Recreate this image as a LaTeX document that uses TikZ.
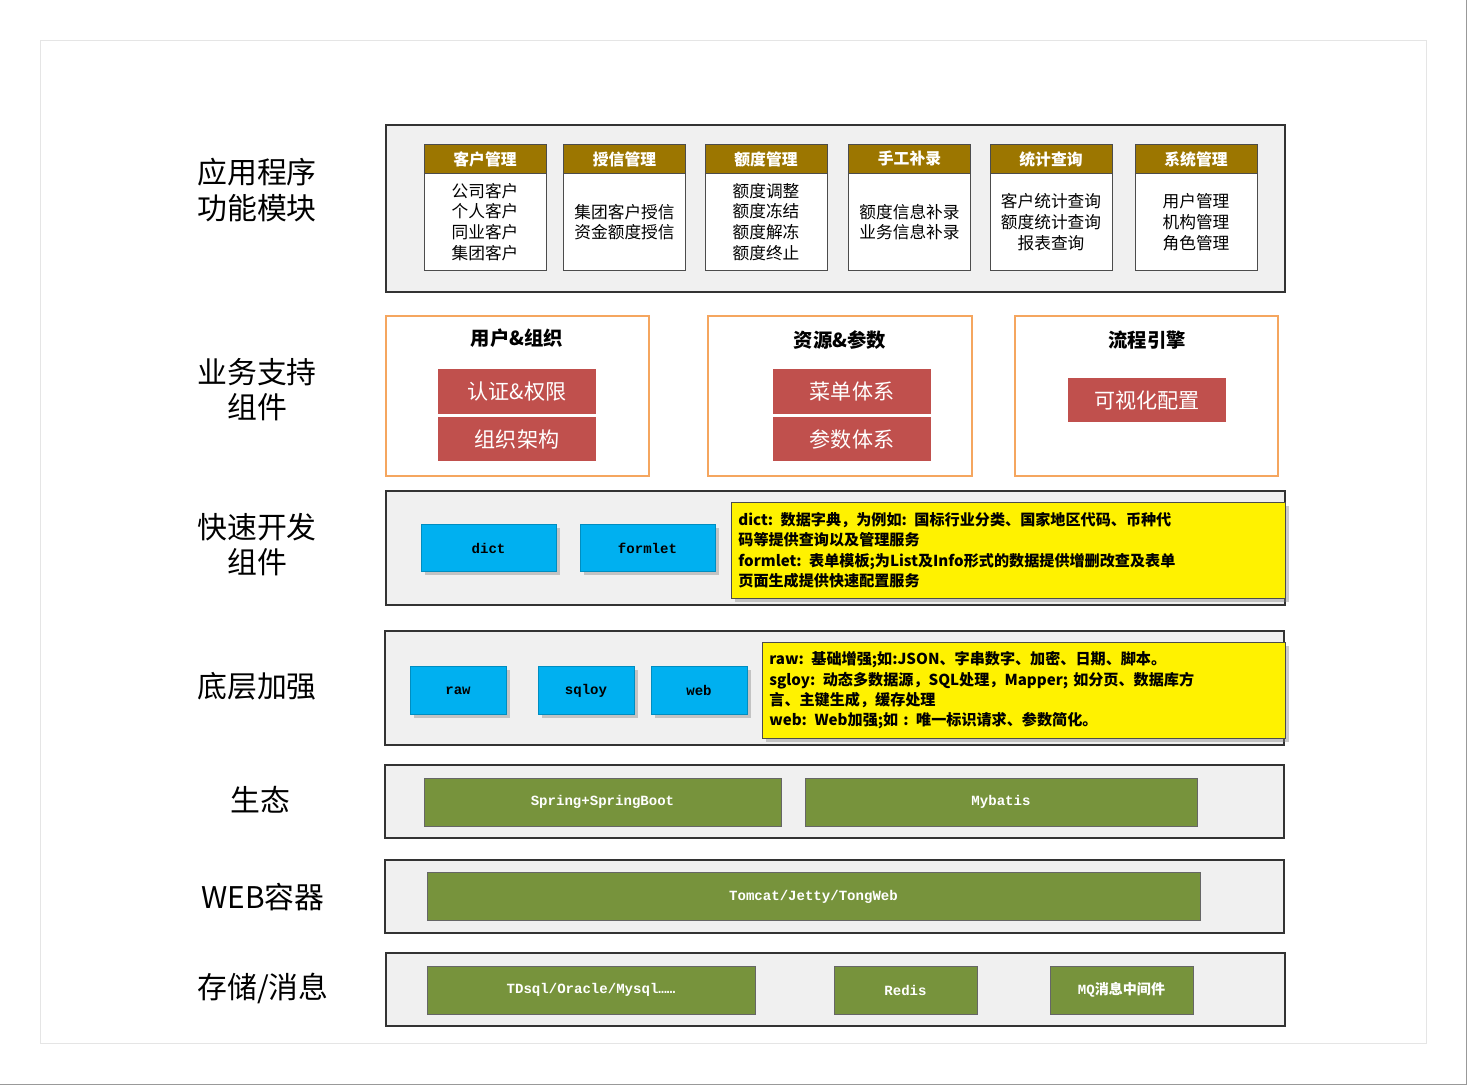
\documentclass[tikz,border=0pt]{standalone}
\usepackage{fontspec}
\setmainfont{Noto Sans CJK SC}
\newfontfamily\codefont{Liberation Mono}
\newfontfamily\cjkfont{Noto Sans CJK SC}
\usetikzlibrary{positioning,shadows}
\definecolor{modgold}{RGB}{156,118,0}
\definecolor{modred}{RGB}{192,80,77}
\definecolor{modblue}{RGB}{0,176,240}
\definecolor{modgreen}{RGB}{119,147,60}
\definecolor{edgeorange}{RGB}{245,166,95}
\tikzset{
  panel/.style={draw=black!80, fill=black!6, line width=0.6pt},
  group/.style={draw=edgeorange, fill=white, line width=0.6pt},
  layerlabel/.style={font=\fontsize{17}{20}\selectfont, align=center},
  modhead/.style={draw=black!70, fill=modgold, text=white, font=\fontsize{9}{10}\selectfont\bfseries,
    minimum width=2.44cm, minimum height=0.6cm, inner sep=0pt},
  modbody/.style={draw=black!70, fill=white, font=\fontsize{9.5}{11.8}\selectfont, align=center,
    minimum width=2.44cm, minimum height=1.94cm, inner sep=0pt},
  redbox/.style={fill=modred, text=white, font=\fontsize{12}{14}\selectfont,
    minimum width=3.16cm, minimum height=0.9cm, inner sep=0pt},
  bluebox/.style={fill=modblue, draw=modblue!80!black, drop shadow={shadow xshift=2pt, shadow yshift=-2pt, opacity=0.4},
    font=\codefont\fontsize{8}{9}\selectfont\bfseries, minimum height=0.95cm, inner sep=0pt},
  greenbox/.style={fill=modgreen, draw=black!60, text=white, font=\codefont\fontsize{8}{9}\selectfont\bfseries,
    minimum height=0.96cm, inner sep=0pt},
  notebox/.style={fill=yellow, draw=black!70, drop shadow={shadow xshift=2pt, shadow yshift=-2pt, opacity=0.4},
    font=\fontsize{8.6}{11.6}\selectfont\bfseries, align=left, anchor=north west, inner sep=4pt},
  grouptitle/.style={font=\fontsize{11}{13}\selectfont\bfseries}
}
\begin{document}
\begin{tikzpicture}[x=0.02cm, y=-0.02cm]
  \useasboundingbox (0,0) rectangle (1469,1087);
  \fill[white] (0,0) rectangle (1469,1087);
  \draw[black!10] (40,40) rectangle (1426,1043);
  \draw[black!40] (1466,0) -- (1466,1084) -- (0,1084);

  % Layer labels
  \node[layerlabel] (lapp) at (257,190) {应用程序\\功能模块};
  \node[layerlabel] (lbiz) at (257,390) {业务支持\\组件};
  \node[layerlabel] (ldev) at (257,545) {快速开发\\组件};
  \node[layerlabel] (lbase) at (257,686) {底层加强};
  \node[layerlabel] (leco) at (260,800) {生态};
  \node[layerlabel] (lweb) at (263,897) {WEB容器};
  \node[layerlabel] (lstore) at (263,988) {存储/消息};

  % Application modules
  \draw[panel] (386,125) rectangle (1285,292);
  \node[modhead] (h1) at (485,159) {客户管理};
  \node[modbody] (b1) at (485,222) {公司客户\\个人客户\\同业客户\\集团客户};
  \node[modhead] (h2) at (624.5,159) {授信管理};
  \node[modbody] (b2) at (624.5,222) {集团客户授信\\资金额度授信};
  \node[modhead] (h3) at (766,159) {额度管理};
  \node[modbody] (b3) at (766,222) {额度调整\\额度冻结\\额度解冻\\额度终止};
  \node[modhead] (h4) at (909.5,159) {手工补录};
  \node[modbody] (b4) at (909.5,222) {额度信息补录\\业务信息补录};
  \node[modhead] (h5) at (1051,159) {统计查询};
  \node[modbody] (b5) at (1051,222) {客户统计查询\\额度统计查询\\报表查询};
  \node[modhead] (h6) at (1196,159) {系统管理};
  \node[modbody] (b6) at (1196,222) {用户管理\\机构管理\\角色管理};

  % Business support
  \draw[group] (386,316) rectangle (649,476);
  \node[grouptitle] (t1) at (517,338) {用户\&组织};
  \node[redbox] (auth) at (517,391.5) {认证\&权限};
  \node[redbox] (org) at (517,439) {组织架构};
  \draw[group] (708,316) rectangle (972,476);
  \node[grouptitle] (t2) at (840,340) {资源\&参数};
  \node[redbox] (menu) at (852,391.5) {菜单体系};
  \node[redbox] (param) at (852,439) {参数体系};
  \draw[group] (1015,316) rectangle (1278,476);
  \node[grouptitle] (t3) at (1147,340) {流程引擎};
  \node[redbox] (visual) at (1147,400) {可视化配置};

  % Rapid development
  \draw[panel] (386,491) rectangle (1285,605);
  \node[bluebox, minimum width=2.7cm] (dict) at (488.5,548) {dict};
  \node[bluebox, minimum width=2.7cm] (formlet) at (647.5,548) {formlet};
  \node[notebox, text width=10.8cm, minimum height=1.92cm] (devnote) at (731,502)
    {dict: 数据字典，为例如: 国标行业分类、国家地区代码、币种代\\码等提供查询以及管理服务\\formlet: 表单模板;为List及Info形式的数据提供增删改查及表单\\页面生成提供快速配置服务};

  % Base enhancement
  \draw[panel] (385,631) rectangle (1284,745);
  \node[bluebox, minimum width=1.92cm] (raw) at (458,690.5) {raw};
  \node[bluebox, minimum width=1.92cm] (sqloy) at (586,690.5) {sqloy};
  \node[bluebox, minimum width=1.92cm] (webx) at (699,690.5) {web};
  \node[notebox, text width=10.18cm, minimum height=1.92cm] (basenote) at (762,642)
    {raw: 基础增强;如:JSON、字串数字、加密、日期、脚本。\\sgloy: 动态多数据源，SQL处理，Mapper; 如分页、数据库方\\言、主键生成，缓存处理\\web: Web加强;如 : 唯一标识请求、参数简化。};

  % Ecosystem
  \draw[panel] (385,765) rectangle (1284,838);
  \node[greenbox, minimum width=7.14cm] (spring) at (602.5,802) {Spring+SpringBoot};
  \node[greenbox, minimum width=7.84cm] (mybatis) at (1001,802) {Mybatis};

  % Web container
  \draw[panel] (385,860) rectangle (1284,933);
  \node[greenbox, minimum width=15.46cm] (tomcat) at (813.5,896.5) {Tomcat/Jetty/TongWeb};

  % Storage / messaging
  \draw[panel] (386,953) rectangle (1285,1026);
  \node[greenbox, minimum width=6.56cm] (db) at (591,990) {TDsql/Oracle/Mysql……};
  \node[greenbox, minimum width=2.86cm] (redis) at (905.5,990) {Redis};
  \node[greenbox, minimum width=2.86cm] (mq) at (1121.5,990) {MQ{\cjkfont 消息中间件}};
\end{tikzpicture}
\end{document}
